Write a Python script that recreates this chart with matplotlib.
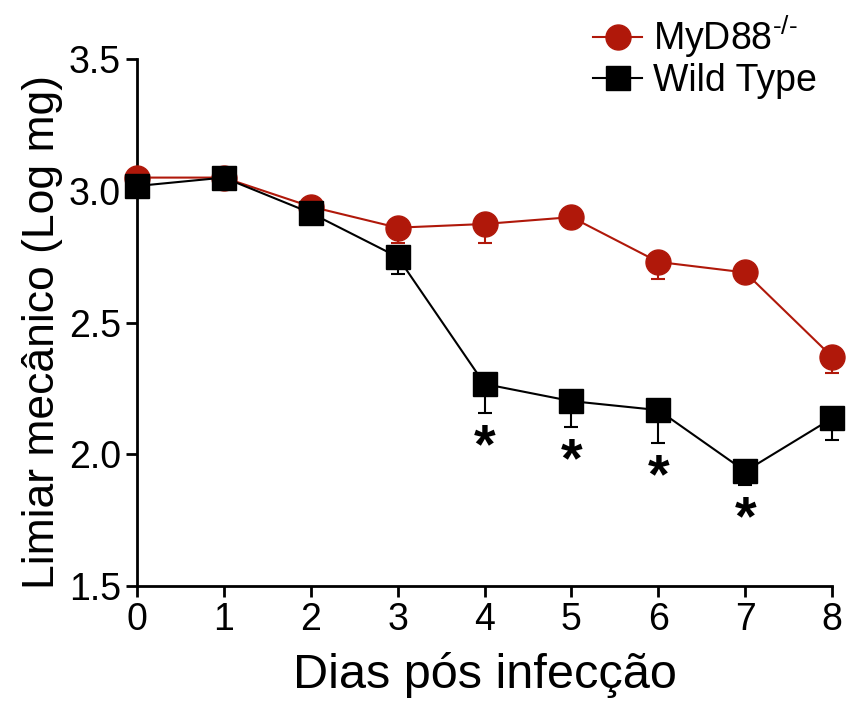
import matplotlib
matplotlib.use("Agg")
from matplotlib import pyplot as plt
from matplotlib.lines import Line2D
import numpy as np

plt.rcParams['font.family'] = ['Liberation Sans', 'DejaVu Sans']
plt.rcParams['mathtext.fontset'] = 'custom'
plt.rcParams['mathtext.rm'] = 'Liberation Sans'
plt.rcParams['mathtext.it'] = 'Liberation Sans'

# days after infection
days = [0, 1, 2, 3, 4, 5, 6, 7, 8]
# MyD88-/- mean and lower error
myd88 = [3.05, 3.05, 2.94, 2.86, 2.874, 2.90, 2.73, 2.69, 2.37]
myd88_err = [0.02, 0.02, 0.06, 0.057, 0.072, 0.02, 0.065, 0.02, 0.06]
# wild type mean and lower error
wt = [3.018, 3.05, 2.916, 2.749, 2.267, 2.202, 2.168, 1.936, 2.137]
wt_err = [0.02, 0.02, 0.03, 0.065, 0.11, 0.10, 0.125, 0.053, 0.083]
# days with significant difference
signif = [4, 5, 6, 7]

red = '#B0180A'

fig = plt.figure(figsize=(8.5, 7.02), dpi=100)
ax = fig.add_axes([0.161, 0.165, 0.818, 0.751])

ax.errorbar(days, myd88, yerr=[myd88_err, np.zeros(len(days))], color=red,
            marker='o', markersize=18, lw=1.5, elinewidth=1.5, capsize=5,
            capthick=1.5, clip_on=False, zorder=3)
ax.errorbar(days, wt, yerr=[wt_err, np.zeros(len(days))], color='black',
            marker='s', markersize=17, lw=1.5, elinewidth=1.5, capsize=5,
            capthick=1.5, clip_on=False, zorder=4)

# asterisks below the wild type error bars
for d in signif:
    ax.text(d, wt[d] - wt_err[d] - 0.035, '*', ha='center', va='top',
            fontsize=40, fontweight='bold')

ax.set_xlim(0, 8)
ax.set_ylim(1.5, 3.5)
ax.set_xticks(days)
ax.set_yticks([1.5, 2.0, 2.5, 3.0, 3.5])
ax.set_yticklabels(['1.5', '2.0', '2.5', '3.0', '3.5'])
ax.tick_params(labelsize=27, width=2, length=8)
for s in ['top', 'right']:
    ax.spines[s].set_visible(False)
for s in ['left', 'bottom']:
    ax.spines[s].set_linewidth(2)

ax.set_xlabel('Dias pós infecção', fontsize=35, labelpad=10)
ax.set_ylabel('Limiar mecânico (Log mg)', fontsize=32)
ax.yaxis.set_label_coords(-0.106, 0.482)

handles = [Line2D([], [], color=red, marker='o', markersize=18, lw=1.5),
           Line2D([], [], color='black', marker='s', markersize=17, lw=1.5)]
labels = ['MyD88$^{\\text{-/-}}$', 'Wild Type']
ax.legend(handles, labels, loc='upper right', bbox_to_anchor=(1.0, 1.115),
          frameon=False, fontsize=27, handlelength=1.3, handletextpad=0.3,
          labelspacing=0.1, borderaxespad=0)

fig.savefig('out.png', dpi=100)
